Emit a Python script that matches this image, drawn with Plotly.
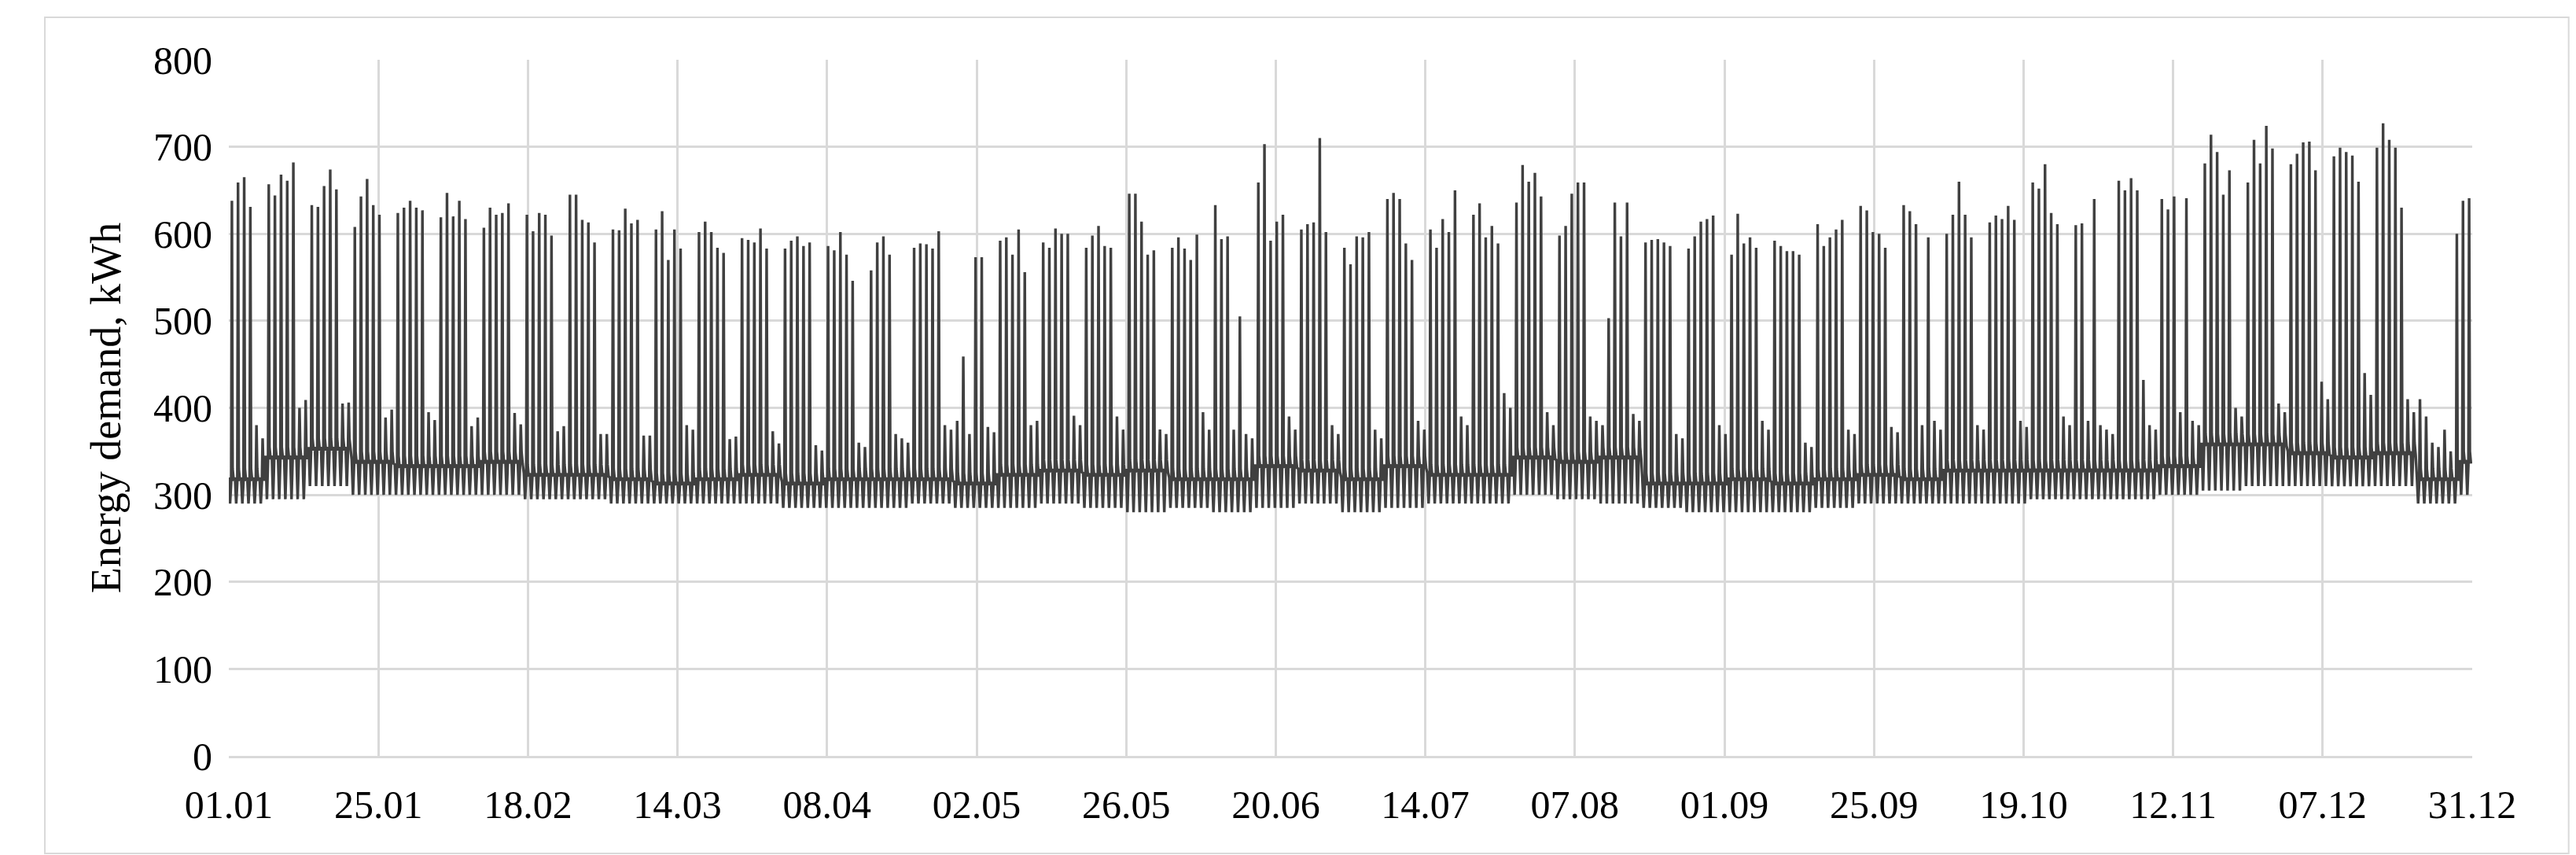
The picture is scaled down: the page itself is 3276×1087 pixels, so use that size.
import plotly.graph_objects as go

# daily peak demand (kWh), Mon..Sun per week; first week starts on Tuesday 01.01
week_peaks = [
    [638, 659, 665, 631, 380, 365],
    [657, 644, 668, 661, 682, 400, 409],
    [633, 631, 655, 674, 651, 405, 406],
    [608, 643, 663, 633, 622, 389, 398],
    [624, 630, 638, 630, 627, 395, 386],
    [619, 647, 620, 638, 617, 379, 389],
    [607, 630, 622, 624, 635, 394, 381],
    [622, 603, 624, 622, 598, 373, 379],
    [645, 645, 616, 613, 590, 370, 370],
    [605, 604, 629, 612, 616, 368, 368],
    [605, 626, 570, 605, 583, 380, 375],
    [602, 614, 602, 584, 578, 364, 367],
    [595, 593, 590, 606, 583, 373, 359],
    [583, 592, 597, 586, 590, 357, 351],
    [586, 581, 602, 576, 546, 360, 355],
    [558, 590, 597, 576, 370, 365, 360],
    [584, 589, 588, 583, 603, 380, 375],
    [385, 459, 370, 573, 573, 378, 372],
    [592, 596, 576, 605, 556, 380, 385],
    [590, 584, 606, 600, 600, 391, 380],
    [584, 598, 609, 586, 584, 390, 375],
    [646, 646, 614, 576, 581, 375, 370],
    [584, 596, 583, 570, 599, 395, 375],
    [633, 594, 597, 375, 505, 370, 365],
    [659, 703, 592, 614, 622, 390, 375],
    [605, 611, 613, 710, 602, 380, 370],
    [584, 565, 597, 596, 602, 375, 365],
    [640, 647, 640, 589, 570, 385, 375],
    [605, 584, 617, 602, 650, 390, 380],
    [622, 635, 596, 609, 589, 417, 400],
    [636, 679, 660, 670, 643, 395, 380],
    [598, 609, 646, 659, 659, 390, 385],
    [380, 503, 636, 597, 636, 393, 385],
    [590, 593, 594, 590, 586, 370, 365],
    [583, 597, 614, 617, 621, 380, 370],
    [576, 623, 589, 596, 584, 385, 375],
    [592, 586, 580, 580, 576, 360, 355],
    [611, 586, 596, 605, 616, 375, 370],
    [632, 627, 602, 600, 584, 378, 372],
    [633, 626, 611, 380, 596, 385, 375],
    [600, 622, 660, 622, 596, 380, 375],
    [613, 621, 617, 632, 616, 385, 378],
    [659, 652, 680, 624, 611, 390, 380],
    [610, 612, 385, 640, 380, 375, 370],
    [661, 650, 664, 650, 432, 380, 375],
    [640, 628, 643, 395, 641, 385, 380],
    [681, 714, 694, 645, 673, 400, 390],
    [659, 708, 681, 724, 698, 405, 395],
    [680, 692, 705, 706, 673, 430, 410],
    [689, 699, 694, 690, 660, 440, 415],
    [699, 727, 708, 699, 630, 410, 395],
    [410, 390, 360, 355, 375, 350, 600],
    [638, 641],
]
# weekly night minimum and daytime base level (kWh)
week_low = [290, 295, 310, 300, 300, 300, 300, 295, 295, 290, 290, 290, 290, 285,
            285, 285, 290, 285, 285, 290, 285, 280, 285, 280, 285, 290, 280, 285,
            290, 290, 300, 295, 290, 285, 280, 280, 280, 285, 290, 290, 290, 290,
            295, 295, 295, 300, 305, 310, 310, 310, 310, 290, 300]
week_base = [320, 345, 355, 340, 335, 335, 340, 325, 325, 320, 315, 320, 325, 315,
             320, 320, 320, 315, 325, 330, 325, 330, 320, 320, 335, 330, 320, 335,
             325, 325, 345, 340, 345, 315, 315, 320, 315, 320, 325, 320, 330, 330,
             330, 330, 330, 335, 360, 360, 350, 345, 350, 320, 340]

tick_labels = ["01.01", "25.01", "18.02", "14.03", "08.04", "02.05", "26.05", "20.06",
               "14.07", "07.08", "01.09", "25.09", "19.10", "12.11", "07.12", "31.12"]

# build a simple intra-day profile for each day: base -> night low -> base -> peak -> base
xs, ys = [], []
day = 0
for w, peaks in enumerate(week_peaks):
    for p in peaks:
        for off, v in [(0.0, week_base[w]), (0.2, week_low[w]), (0.38, week_base[w] - 6),
                       (0.5, p), (0.62, week_base[w] + 10), (0.8, week_base[w] - 4)]:
            xs.append(day + off)
            ys.append(v)
        day += 1

fig = go.Figure()
fig.add_trace(go.Scatter(x=xs, y=ys, mode="lines",
                         line=dict(color="#404040", width=3.4), showlegend=False))

tickvals = [i * 365 / 15 for i in range(16)]
fig.update_layout(
    width=3276, height=1087,
    paper_bgcolor="white", plot_bgcolor="white",
    margin=dict(l=283, r=140, t=68, b=134),
    font=dict(family="Liberation Serif", size=50, color="#000000"),
    shapes=[dict(type="rect", xref="paper", yref="paper", x0=-0.0820, x1=1.043,
                 y0=-0.14, y1=1.061, line=dict(color="#d9d9d9", width=2))],
)
fig.update_xaxes(range=[0, 365], tickvals=tickvals, ticktext=tick_labels,
                 showgrid=True, gridcolor="#d9d9d9", gridwidth=3,
                 showline=True, linecolor="#d9d9d9", linewidth=3,
                 ticks="", zeroline=False, ticklabelstandoff=16)
fig.update_yaxes(range=[0, 800], dtick=100, showgrid=True, gridcolor="#d9d9d9",
                 gridwidth=3, zeroline=False, ticks="", ticklabelstandoff=20,
                 title=dict(text="Energy demand, kWh", font=dict(size=54), standoff=24))

fig.write_html("out.html")
